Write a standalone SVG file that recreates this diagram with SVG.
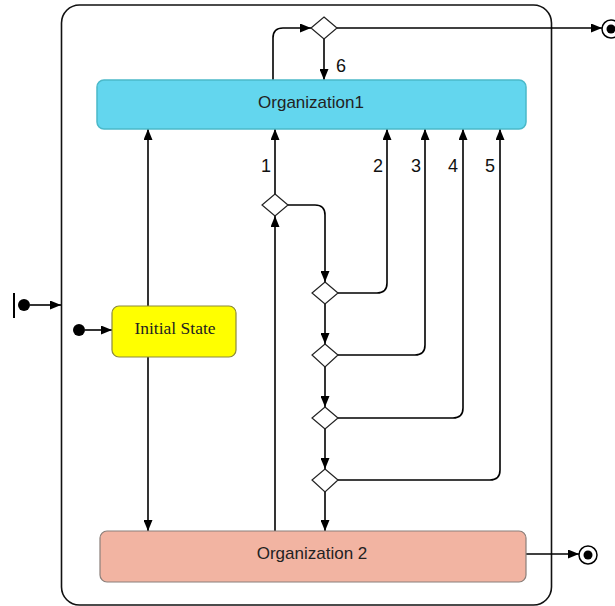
<svg xmlns="http://www.w3.org/2000/svg" width="615" height="606" viewBox="0 0 615 606">
<defs>
<marker id="ah" markerUnits="userSpaceOnUse" markerWidth="11" markerHeight="9" refX="11" refY="4.5" orient="auto">
<path d="M0,0 L11,4.5 L0,9 z" fill="#000"/>
</marker>
<style>
.c{fill:none;stroke:#000;stroke-width:1.6;marker-end:url(#ah)}
.d{fill:#fff;stroke:#222;stroke-width:1.2}
.lbl{font-family:"Liberation Sans",Arial,sans-serif;font-size:18px;fill:#111}
.t{font-family:"Liberation Sans",Arial,sans-serif;font-size:17px;fill:#222;text-anchor:middle}
</style>
</defs>
<rect width="615" height="606" fill="#fff"/>
<g id="container"><rect x="61.5" y="5" width="490" height="600" rx="18" fill="none" stroke="#111" stroke-width="1.6"/></g>
<g id="connectors">
<path class="c" d="M273,80 V38 Q273,28 283,28 H311"/>
<path class="c" d="M324,39 V80"/>
<path class="c" d="M337,28 H602"/>
<path class="c" d="M275,194 V129"/>
<path class="c" d="M275,531 V216"/>
<path class="c" d="M288,205 H315 Q325,205 325,215 V282"/>
<path class="c" d="M338,293 H377 Q387,293 387,283 V129"/>
<path class="c" d="M325,304 V344"/>
<path class="c" d="M338,355 H415 Q425,355 425,345 V129"/>
<path class="c" d="M325,367 V407"/>
<path class="c" d="M338,418 H453 Q463,418 463,408 V129"/>
<path class="c" d="M325,429 V469"/>
<path class="c" d="M338,480 H490 Q500,480 500,470 V129"/>
<path class="c" d="M325,492 V531"/>
<path class="c" d="M148,306 V129"/>
<path class="c" d="M148,357 V531"/>
<path class="c" d="M85,330 H112"/>
<path class="c" d="M30,305 H61"/>
<path class="c" d="M526,554 H579"/>
<text class="lbl" x="336" y="72">6</text>
<text class="lbl" x="261" y="172">1</text>
<text class="lbl" x="373" y="172">2</text>
<text class="lbl" x="411" y="172">3</text>
<text class="lbl" x="448" y="172">4</text>
<text class="lbl" x="485" y="172">5</text>
</g>
<g id="org1"><rect x="97" y="80" width="429" height="49" rx="7" fill="#63d6ee" stroke="#4bb9c9" stroke-width="1.5"/><text class="t" x="311" y="108">Organization1</text></g>
<g id="org2"><rect x="100" y="531" width="426" height="51" rx="7" fill="#f2b4a2" stroke="#8a7f7a" stroke-width="1.2"/><text class="t" x="312" y="559">Organization 2</text></g>
<g id="initial"><rect x="112" y="306" width="124" height="51" rx="7" fill="#ffff00" stroke="#8c8a3c" stroke-width="1.2"/><text x="175" y="334" font-family="'Liberation Serif','Times New Roman',serif" font-size="17.5" text-anchor="middle" fill="#222">Initial State</text></g>
<g id="dTop"><path class="d" d="M324,17 L337,28 L324,39 L311,28 z"/></g>
<g id="d1"><path class="d" d="M275,194 L288,205 L275,216 L262,205 z"/></g>
<g id="d2"><path class="d" d="M325,282 L338,293 L325,304 L312,293 z"/></g>
<g id="d3"><path class="d" d="M325,344 L338,355 L325,367 L312,355 z"/></g>
<g id="d4"><path class="d" d="M325,407 L338,418 L325,429 L312,418 z"/></g>
<g id="d5"><path class="d" d="M325,469 L338,480 L325,492 L312,480 z"/></g>
<g id="start1"><circle cx="79" cy="330" r="6" fill="#000"/></g>
<g id="start2"><line x1="14" y1="293" x2="14" y2="318" stroke="#000" stroke-width="2"/><circle cx="24" cy="305" r="6" fill="#000"/></g>
<g id="final1"><circle cx="611" cy="29" r="9" fill="#fff" stroke="#000" stroke-width="1.5"/><circle cx="611" cy="29" r="4.5" fill="#000"/></g>
<g id="final2"><circle cx="588" cy="555" r="9" fill="#fff" stroke="#000" stroke-width="1.5"/><circle cx="588" cy="555" r="4.5" fill="#000"/></g>
</svg>
